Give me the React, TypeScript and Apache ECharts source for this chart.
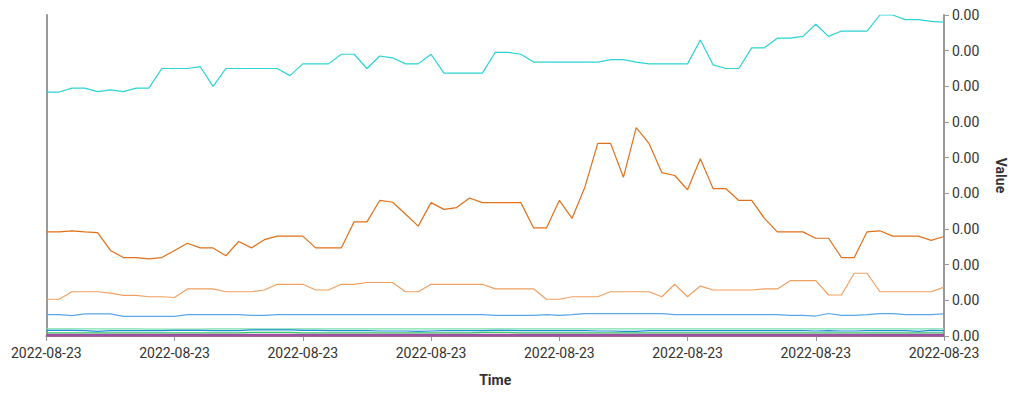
import React, { useEffect, useRef } from "react";
import * as echarts from "echarts";

const UNIT = 1e-4;
const times: string[] = Array.from({ length: 71 }, (_, i) => "t" + i);
const cyanVals = [6.84,6.84,6.95,6.95,6.85,6.9,6.85,6.95,6.95,7.5,7.5,7.5,7.55,7.0,7.5,7.5,7.5,7.5,7.5,7.3,7.63,7.63,7.63,7.9,7.9,7.5,7.85,7.8,7.63,7.63,7.9,7.37,7.37,7.37,7.37,7.95,7.95,7.9,7.68,7.68,7.68,7.68,7.68,7.68,7.75,7.75,7.68,7.63,7.63,7.63,7.63,8.3,7.6,7.5,7.5,8.08,8.08,8.35,8.35,8.4,8.74,8.4,8.55,8.55,8.55,9.0,9.0,8.87,8.87,8.82,8.8];
const orangeHigh = [2.92,2.92,2.95,2.92,2.9,2.4,2.2,2.2,2.16,2.2,2.4,2.6,2.47,2.47,2.25,2.65,2.47,2.7,2.8,2.8,2.8,2.47,2.47,2.47,3.2,3.2,3.8,3.75,3.42,3.08,3.74,3.55,3.6,3.87,3.74,3.74,3.74,3.74,3.03,3.03,3.8,3.3,4.18,5.4,5.4,4.45,5.84,5.4,4.58,4.5,4.1,4.97,4.13,4.13,3.8,3.8,3.3,2.92,2.92,2.92,2.74,2.74,2.2,2.2,2.92,2.95,2.8,2.8,2.8,2.68,2.79];
const orangeLow = [1.03,1.03,1.24,1.24,1.24,1.2,1.14,1.14,1.1,1.1,1.08,1.32,1.32,1.32,1.24,1.24,1.24,1.29,1.45,1.45,1.45,1.29,1.29,1.45,1.45,1.5,1.5,1.5,1.24,1.24,1.45,1.45,1.45,1.45,1.45,1.32,1.32,1.32,1.32,1.03,1.03,1.1,1.1,1.1,1.24,1.24,1.24,1.24,1.1,1.45,1.1,1.4,1.29,1.29,1.29,1.29,1.32,1.32,1.55,1.55,1.55,1.15,1.15,1.76,1.76,1.24,1.24,1.24,1.24,1.24,1.37];
const blueVals = [0.6,0.6,0.57,0.62,0.62,0.62,0.55,0.55,0.55,0.55,0.55,0.6,0.6,0.6,0.6,0.6,0.58,0.58,0.6,0.6,0.6,0.6,0.6,0.6,0.6,0.6,0.6,0.6,0.6,0.6,0.6,0.6,0.6,0.6,0.6,0.58,0.58,0.58,0.58,0.6,0.58,0.6,0.63,0.63,0.63,0.63,0.63,0.63,0.63,0.6,0.6,0.6,0.6,0.6,0.6,0.6,0.6,0.6,0.58,0.58,0.56,0.63,0.58,0.58,0.6,0.63,0.63,0.6,0.6,0.6,0.62];
const greenLight = [0.2,0.2,0.2,0.2,0.2,0.2,0.2,0.2,0.19,0.19,0.19,0.19,0.19,0.2,0.2,0.2,0.2,0.2,0.2,0.2,0.2,0.2,0.2,0.2,0.2,0.2,0.2,0.2,0.2,0.2,0.2,0.2,0.2,0.2,0.2,0.2,0.2,0.2,0.2,0.2,0.2,0.2,0.2,0.2,0.2,0.2,0.2,0.2,0.2,0.2,0.2,0.2,0.2,0.2,0.2,0.2,0.2,0.2,0.2,0.2,0.2,0.2,0.2,0.2,0.2,0.2,0.2,0.2,0.2,0.2,0.2];
const tealVals = [0.16,0.16,0.16,0.15,0.13,0.15,0.15,0.15,0.15,0.15,0.16,0.16,0.16,0.15,0.15,0.15,0.17,0.17,0.17,0.17,0.16,0.16,0.15,0.15,0.15,0.15,0.14,0.14,0.14,0.13,0.14,0.15,0.15,0.15,0.15,0.16,0.16,0.15,0.15,0.15,0.15,0.15,0.15,0.14,0.14,0.13,0.13,0.15,0.15,0.15,0.15,0.15,0.15,0.15,0.15,0.15,0.15,0.15,0.15,0.15,0.14,0.15,0.14,0.14,0.15,0.15,0.15,0.15,0.13,0.16,0.15];
const greenVals = [0.09,0.09,0.09,0.09,0.09,0.09,0.09,0.09,0.09,0.09,0.09,0.09,0.09,0.09,0.09,0.09,0.1,0.1,0.1,0.1,0.09,0.09,0.09,0.09,0.09,0.09,0.09,0.09,0.09,0.09,0.09,0.09,0.09,0.09,0.1,0.1,0.1,0.09,0.09,0.09,0.09,0.09,0.09,0.09,0.09,0.09,0.09,0.09,0.09,0.09,0.09,0.09,0.09,0.09,0.09,0.09,0.09,0.09,0.09,0.09,0.09,0.09,0.09,0.09,0.09,0.09,0.09,0.09,0.09,0.09,0.09];
const purpleVals = times.map(() => 0.02);

const seriesDefs: [string, string, number[]][] = [
  ["A", "#2ad4d4", cyanVals],
  ["B", "#e0701a", orangeHigh],
  ["C", "#f0a060", orangeLow],
  ["D", "#5aa6ea", blueVals],
  ["E", "#7ce0b0", greenLight],
  ["F", "#1f8fd0", tealVals],
  ["G", "#33cc66", greenVals],
  ["H", "#a050a0", purpleVals],
];

export default function App() {
  const ref = useRef<HTMLDivElement>(null);
  useEffect(() => {
    const chart = echarts.init(ref.current!, null, { renderer: "svg" });
    const axisColor = "#999";
    chart.setOption({
      animation: false,
      textStyle: { fontFamily: "Roboto" },
      grid: { left: 33, right: 57, top: 2, bottom: 40 },
      xAxis: {
        type: "category",
        data: times,
        boundaryGap: false,
        name: "Time",
        nameLocation: "middle",
        nameGap: 37,
        nameTextStyle: { fontSize: 14, fontWeight: "bold", color: "#333" },
        axisLine: { lineStyle: { color: axisColor, width: 2 } },
        axisTick: { interval: 9, lineStyle: { color: axisColor } },
        axisLabel: { interval: 9, formatter: () => "2022-08-23", color: "#333", fontSize: 14, margin: 10 },
      },
      yAxis: [
        {
          type: "value",
          position: "right",
          min: 0,
          max: 9 * UNIT,
          interval: UNIT,
          name: "Value",
          nameLocation: "middle",
          nameGap: 50,
          nameRotate: -90,
          nameTextStyle: { fontSize: 14, fontWeight: "bold", color: "#333" },
          axisLine: { show: true, lineStyle: { color: axisColor, width: 2 } },
          axisTick: { show: true, lineStyle: { color: axisColor } },
          axisLabel: { formatter: (v: number) => v.toFixed(2), color: "#333", fontSize: 14 },
          splitLine: { show: false },
        },
        {
          type: "value",
          position: "left",
          min: 0,
          max: 9 * UNIT,
          axisLine: { show: true, lineStyle: { color: axisColor, width: 2 } },
          axisTick: { show: false },
          axisLabel: { show: false },
          splitLine: { show: false },
        },
      ],
      series: seriesDefs.map(([name, color, vals]) => ({
        name,
        type: "line",
        data: vals.map((v) => v * UNIT),
        showSymbol: false,
        lineStyle: { color, width: name === "H" ? 3 : 1.2 },
        itemStyle: { color },
      })),
    });
    return () => chart.dispose();
  }, []);
  return <div ref={ref} style={{ width: 1008, height: 384 }} />;
}
